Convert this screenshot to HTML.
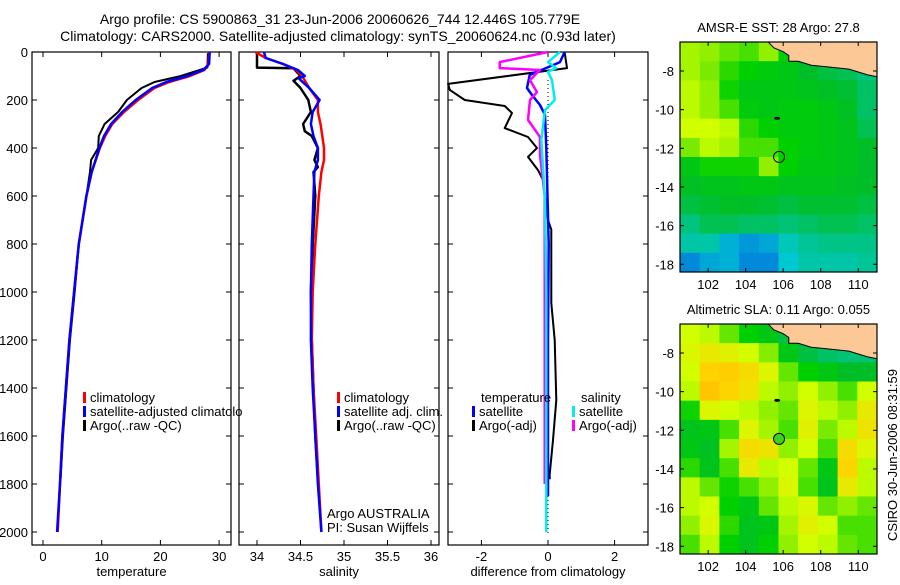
<!DOCTYPE html>
<html><head><meta charset="utf-8"><style>
body{margin:0;background:#fff}
svg text{font-family:"Liberation Sans",sans-serif;font-size:13px;fill:#000}
svg text.ttl{font-size:14px}
</style></head><body>
<svg id="c" width="900" height="580" viewBox="0 0 900 580">
<text class="ttl" x="340" y="24" text-anchor="middle">Argo profile: CS 5900863_31 23-Jun-2006 20060626_744 12.446S 105.779E</text>
<text class="ttl" x="338" y="41" text-anchor="middle">Climatology: CARS2000. Satellite-adjusted climatology: synTS_20060624.nc (0.93d later)</text>
<text transform="translate(897,455) rotate(-90)" text-anchor="middle">CSIRO 30-Jun-2006 08:31:59</text>
</svg>
<script>
// ---- data ----
const depthTicks=[0,200,400,600,800,1000,1200,1400,1600,1800,2000];
const tempTicks=[0,10,20,30];
const salTicks=[34,34.5,35,35.5,36];
const diffTicks=[-2,0,2];
const tempClimD=[0,50,75,100,125,150,200,250,300,350,400,500,600,800,1000,1200,1400,1600,1800,2000];
const tempClimV=[28.3,28.2,27.5,25,21.5,19,16.2,13.8,11.8,10.6,9.7,8.3,7.4,6.1,5.3,4.5,3.9,3.3,2.9,2.5];
const tempSatD=[0,50,75,100,125,150,200,250,300,350,400,500,600,800,1000,1200,1400,1600,1800,2000];
const tempSatV=[28.4,28.3,27.3,24.6,21,18.6,15.8,13.5,11.6,10.4,9.6,8.3,7.4,6.1,5.3,4.5,3.9,3.3,2.9,2.4];
const tempArgoD=[5,65,70,100,125,150,200,250,300,350,400,450,500,600,800,1000,1200,1400,1600,1780];
const tempArgoV=[28.1,28.0,27.3,23.5,19,16.8,14.3,12.8,10.5,9.5,9.4,8.2,8.0,7.4,6.1,5.4,4.6,4.0,3.4,3.0];
const salClimD=[0,25,50,75,100,150,200,250,300,350,400,450,500,600,800,1000,1200,1400,1600,1800,2000];
const salClimV=[33.98,34.1,34.3,34.45,34.52,34.6,34.7,34.7,34.73,34.75,34.77,34.77,34.74,34.71,34.67,34.64,34.63,34.65,34.68,34.71,34.74];
const salSatD=[0,25,50,75,100,110,150,200,250,300,350,400,450,500,600,800,1000,1200,1400,1600,1800,2000];
const salSatV=[34.08,34.1,34.3,34.47,34.55,34.48,34.6,34.72,34.64,34.62,34.65,34.7,34.7,34.66,34.65,34.63,34.62,34.62,34.64,34.67,34.7,34.74];
const salArgoD=[0,65,68,100,120,150,200,250,300,330,350,400,450,480,500,600,800,1000,1200,1400,1600,1780];
const salArgoV=[34.0,34.0,34.42,34.5,34.42,34.5,34.59,34.62,34.53,34.55,34.63,34.7,34.66,34.7,34.65,34.67,34.64,34.62,34.63,34.65,34.67,34.7];
const dTArgoD=[0,67,133,158,200,225,254,317,354,400,437,492,533,700,740,1046,1200,1450,1617,1760,1780];
const dTArgoV=[0.5,0.57,-3.0,-2.95,-2.5,-1.3,-1.08,-1.3,-0.6,-0.33,-0.6,-0.3,-0.15,0,0.1,0.1,0.2,0.25,0.15,0.05,0.05];
const dTSatD=[0,42,96,150,179,221,262,400,800,1200,1600,1850];
const dTSatV=[0.5,0.36,-0.55,-0.63,-0.48,-0.24,-0.09,-0.05,0.02,0.0,0.0,0.0];
const dSArgoD=[0,42,67,75,117,167,200,283,354,429,600,1000,1400,1800];
const dSArgoV=[0,-1.45,-1.45,-0.24,-0.54,-0.33,-0.54,-0.6,-0.24,-0.24,-0.1,-0.1,-0.1,-0.1];
const dSSatD=[0,42,67,83,117,200,242,367,617,1000,1500,2000];
const dSSatV=[0.36,0,0.24,0,0.12,0.2,-0.09,-0.2,-0.09,-0.05,-0.05,-0.05];
const mapLons=[102,104,106,108,110];
const mapLats=[-8,-10,-12,-14,-16,-18];
const sstGrid=[
[0.68,0.66,0.62,0.6,0.66,0.55,0.5,0.5,0.5,0.5],
[0.68,0.64,0.58,0.55,0.52,0.5,0.45,0.42,0.4,0.35],
[0.7,0.66,0.56,0.5,0.5,0.5,0.48,0.46,0.44,0.38],
[0.7,0.66,0.6,0.52,0.5,0.52,0.52,0.5,0.46,0.38],
[0.72,0.72,0.7,0.58,0.55,0.52,0.52,0.5,0.48,0.4],
[0.64,0.7,0.68,0.6,0.6,0.55,0.52,0.5,0.48,0.45],
[0.5,0.56,0.56,0.56,0.66,0.55,0.5,0.5,0.48,0.45],
[0.46,0.48,0.48,0.5,0.5,0.48,0.48,0.48,0.46,0.45],
[0.42,0.44,0.46,0.45,0.44,0.42,0.44,0.44,0.44,0.42],
[0.35,0.4,0.4,0.38,0.38,0.36,0.38,0.4,0.4,0.38],
[0.3,0.3,0.2,0.15,0.18,0.28,0.32,0.34,0.34,0.34],
[0.12,0.18,0.2,0.12,0.12,0.25,0.3,0.3,0.3,0.32]];
const slaGrid=[
[0.72,0.7,0.62,0.55,0.5,0.42,0.4,0.4,0.4,0.4],
[0.74,0.78,0.76,0.72,0.65,0.5,0.42,0.38,0.36,0.36],
[0.72,0.85,0.86,0.82,0.75,0.62,0.55,0.5,0.45,0.45],
[0.7,0.88,0.84,0.8,0.7,0.66,0.72,0.66,0.6,0.72],
[0.56,0.75,0.72,0.7,0.66,0.62,0.75,0.7,0.66,0.78],
[0.48,0.5,0.6,0.75,0.68,0.6,0.76,0.64,0.7,0.8],
[0.5,0.46,0.68,0.82,0.8,0.66,0.72,0.6,0.82,0.75],
[0.58,0.48,0.6,0.78,0.7,0.72,0.62,0.5,0.84,0.7],
[0.7,0.62,0.56,0.6,0.66,0.74,0.6,0.48,0.78,0.7],
[0.7,0.72,0.55,0.5,0.62,0.7,0.74,0.62,0.66,0.62],
[0.66,0.74,0.58,0.48,0.5,0.68,0.76,0.72,0.6,0.6],
[0.6,0.7,0.55,0.48,0.55,0.66,0.72,0.7,0.62,0.6]];
const landLon=[105.2,105.5,106,106.3,106.3,106.8,107.5,108.5,109.5,110.5,111,111];
const landLat=[-6.5,-6.8,-7.0,-7.2,-7.5,-7.5,-7.7,-7.8,-7.9,-8.2,-8.3,-6.5];
const argoLon=105.779, argoLat=-12.446;

// ---- helpers ----
const svg=document.getElementById('c');
const NS='http://www.w3.org/2000/svg';
function mk(tag,attrs,parent){const e=document.createElementNS(NS,tag);for(const k in attrs)e.setAttribute(k,attrs[k]);(parent||svg).appendChild(e);return e;}
const Y0=52,YS=0.24,PB=545;
const dy=d=>Y0+d*YS;
const panels=[
 {x0:32,x1:231,f:v=>43+v*5.87,ticks:tempTicks,label:'temperature',lab:true,name:'temperature-panel'},
 {x0:239,x1:439,f:v=>257+(v-34)*87,ticks:salTicks,label:'salinity',lab:false,name:'salinity-panel'},
 {x0:448,x1:648,f:v=>548+v*33.3,ticks:diffTicks,label:'difference from climatology',lab:false,name:'difference-panel'}];
panels.forEach(p=>{
 const g=mk('g',{});
 
 
 const r=mk('rect',{x:p.x0,y:Y0,width:p.x1-p.x0,height:PB-Y0,fill:'none',stroke:'#000','stroke-width':1.2},g);
 
 
 depthTicks.forEach(d=>{const y=dy(d);
  mk('line',{x1:p.x0,x2:p.x0+5,y1:y,y2:y,stroke:'#000'},g);
  mk('line',{x1:p.x1,x2:p.x1-5,y1:y,y2:y,stroke:'#000'},g);
  if(p.lab){const t=mk('text',{x:p.x0-4,y:y+5,'text-anchor':'end'},g);t.textContent=d;
   
   }
 });
 p.ticks.forEach(v=>{const x=p.f(v);
  mk('line',{x1:x,x2:x,y1:Y0,y2:Y0+5,stroke:'#000'},g);
  mk('line',{x1:x,x2:x,y1:PB,y2:PB-5,stroke:'#000'},g);
  const t=mk('text',{x:x,y:561,'text-anchor':'middle'},g);t.textContent=v;
  
  
 });
 const t=mk('text',{x:(p.x0+p.x1)/2,y:576,'text-anchor':'middle'},g);t.textContent=p.label;
 
 
});
function line(D,V,f,col,w,name){
 const pts=D.map((d,i)=>f(V[i]).toFixed(1)+','+dy(d).toFixed(1)).join(' ');
 const e=mk('polyline',{points:pts,fill:'none',stroke:col,'stroke-width':w,'stroke-linejoin':'round'});
 
 
}
const zl=mk('line',{x1:548,x2:548,y1:80,y2:535,stroke:'#000','stroke-dasharray':'1,3'});


const [P1,P2,P3]=panels;
line(tempArgoD,tempArgoV,P1.f,'#000',2,'temp-argo-line');
line(tempClimD,tempClimV,P1.f,'#f00',2.5,'temp-climatology-line');
line(tempSatD,tempSatV,P1.f,'#00f',2.5,'temp-satellite-line');
line(salArgoD,salArgoV,P2.f,'#000',2.5,'sal-argo-line');
line(salClimD,salClimV,P2.f,'#f00',2.5,'sal-climatology-line');
line(salSatD,salSatV,P2.f,'#00f',2.5,'sal-satellite-line');
line(dTArgoD,dTArgoV,P3.f,'#000',2,'diff-temp-argo-line');
line(dTSatD,dTSatV,P3.f,'#00f',2.5,'diff-temp-satellite-line');
line(dSArgoD,dSArgoV,P3.f,'#f0f',2.5,'diff-sal-argo-line');
line(dSSatD,dSSatV,P3.f,'#0ee',2.5,'diff-sal-satellite-line');
function leg(x,y,col,txt){
 const g=mk('g',{});
 
 
 if(col)mk('rect',{x:x,y:y-10,width:3,height:11,fill:col},g);
 const t=mk('text',{x:x+7,y:y},g);t.textContent=txt;
}
leg(83,402,'#f00','climatology');leg(83,416,'#00f','satellite-adjusted climatolo');leg(83,430,'#000','Argo(..raw -QC)');
leg(337,402,'#f00','climatology');leg(337,416,'#00f','satellite adj. clim.');leg(337,430,'#000','Argo(..raw -QC)');
leg(474,402,null,'temperature');leg(472,416,'#00f','satellite');leg(472,430,'#000','Argo(-adj)');
leg(574,402,null,'salinity');leg(572,416,'#0ee','satellite');leg(572,430,'#f0f','Argo(-adj)');
const a1=mk('text',{x:327,y:518});a1.textContent='Argo AUSTRALIA';


const a2=mk('text',{x:327,y:532});a2.textContent='PI: Susan Wijffels';



// ---- maps ----
const stops=[[0,[0,80,224]],[0.25,[0,200,210]],[0.45,[0,190,40]],[0.55,[0,208,0]],[0.62,[100,230,0]],[0.72,[210,255,0]],[0.85,[255,210,0]],[1,[255,144,0]]];
function cmap(v){for(let i=1;i<stops.length;i++){if(v<=stops[i][0]){const a=stops[i-1],b=stops[i],t=(v-a[0])/(b[0]-a[0]);return 'rgb('+a[1].map((c,k)=>Math.round(c+(b[1][k]-c)*t)).join(',')+')';}}return 'rgb(255,144,0)';}
function drawMap(top,grid,title,name,markFill){
 const x0=680,x1=877,y1=top+230;
 const lx=lon=>x0+(lon-100.5)*(x1-x0)/10.5;
 const ly=lat=>top+(-6.5-lat)*(y1-top)/11.9;
 const g=mk('g',{});
 
 
 const rows=grid.length,cols=grid[0].length,cw=(x1-x0)/cols,ch=(y1-top)/rows;
 grid.forEach((row,r)=>row.forEach((v,c)=>{
  const cell=mk('rect',{x:x0+c*cw,y:top+r*ch,width:cw+0.5,height:ch+0.5,fill:cmap(v)},g);
  
  
 }));
 const land=mk('polygon',{points:landLon.map((l,i)=>lx(l).toFixed(1)+','+ly(landLat[i]).toFixed(1)).join(' '),fill:'#fcc896',stroke:'#000','stroke-width':1},g);
 
 
 const isl=mk('ellipse',{cx:lx(105.68),cy:ly(-10.45),rx:3,ry:1.5,fill:'#000'},g);
 
 
 const m=mk('circle',{cx:lx(argoLon),cy:ly(argoLat),r:5.5,fill:markFill,stroke:'#000'},g);
 
 
 mk('rect',{x:x0,y:top,width:x1-x0,height:y1-top,fill:'none',stroke:'#000','stroke-width':1.2},g);
 mapLons.forEach(l=>{const x=lx(l);
  mk('line',{x1:x,x2:x,y1:top,y2:top+4,stroke:'#000'},g);mk('line',{x1:x,x2:x,y1:y1,y2:y1-4,stroke:'#000'},g);
  const t=mk('text',{x:x,y:y1+17,'text-anchor':'middle'},g);t.textContent=l;
  
  });
 mapLats.forEach(l=>{const y=ly(l);
  mk('line',{x1:x0,x2:x0+4,y1:y,y2:y,stroke:'#000'},g);mk('line',{x1:x1,x2:x1-4,y1:y,y2:y,stroke:'#000'},g);
  const t=mk('text',{x:x0-6,y:y+5,'text-anchor':'end'},g);t.textContent=l;
  
  });
 const tt=mk('text',{x:(x0+x1)/2,y:top-10,'text-anchor':'middle'},g);tt.textContent=title;
 
 
}
drawMap(42,sstGrid,'AMSR-E SST: 28 Argo: 27.8','sst-map','none');
drawMap(324,slaGrid,'Altimetric SLA: 0.11 Argo: 0.055','sla-map','#40d020');
</script>
</body></html>
